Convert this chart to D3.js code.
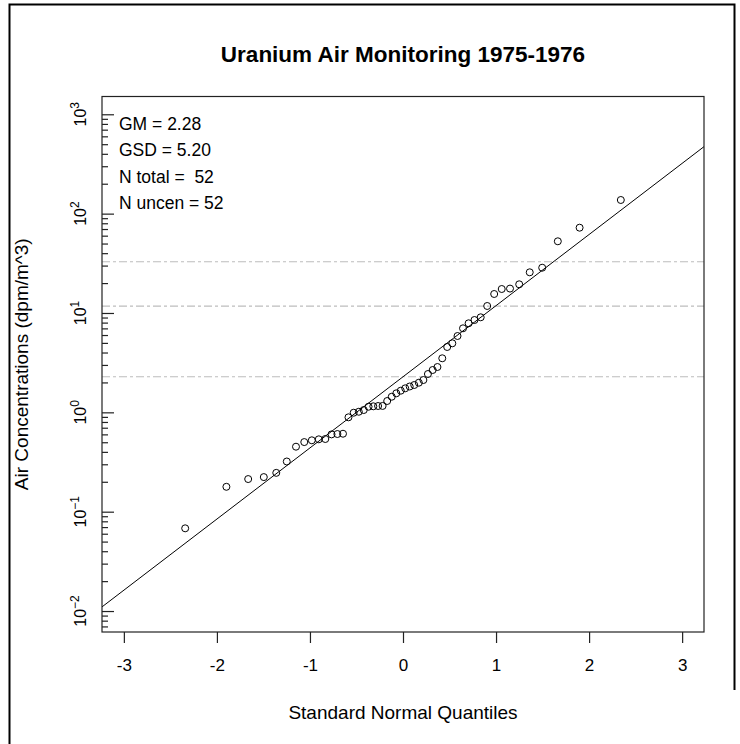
<!DOCTYPE html>
<html>
<head>
<meta charset="utf-8">
<script src="https://cdn.jsdelivr.net/npm/d3@7"></script>
<style>
  html, body { margin: 0; padding: 0; background: #fff; }
  svg { display: block; }
  text { font-family: "Liberation Sans", Arial, sans-serif; fill: #000; }
</style>
</head>
<body>
<svg id="chart" width="740" height="744"></svg>
<script>
// ---- data ----
const title = "Uranium Air Monitoring 1975-1976";
const xLabel = "Standard Normal Quantiles";
const yLabel = "Air Concentrations (dpm/m^3)";
const quantiles = [-2.341,-1.898,-1.664,-1.496,-1.362,-1.249,-1.150,-1.061,-0.980,-0.905,-0.835,-0.768,-0.705,-0.645,-0.586,-0.530,-0.475,-0.422,-0.370,-0.319,-0.268,-0.219,-0.170,-0.121,-0.072,-0.024,
  0.024,0.072,0.121,0.170,0.219,0.268,0.319,0.370,0.422,0.475,0.530,0.586,0.645,0.705,0.768,0.835,0.905,0.980,1.061,1.150,1.249,1.362,1.496,1.664,1.898,2.341];
const concentrations = [0.068,0.178,0.213,0.223,0.246,0.320,0.451,0.502,0.523,0.535,0.539,0.600,0.605,0.609,0.891,0.991,1.014,1.055,1.139,1.150,1.158,1.160,1.300,1.436,1.554,1.651,
  1.745,1.820,1.884,1.987,2.115,2.431,2.667,2.859,3.499,4.546,4.952,5.866,7.012,7.873,8.498,9.046,11.76,15.53,17.43,17.60,19.44,25.67,28.56,52.68,72.2,137.2];
const gm = 2.28;
const gsd = 5.20;
const refLines = [2.28, 11.7, 32.8];
const legendLines = ["GM = 2.28", "GSD = 5.20", "N total =  52", "N uncen = 52"];
const xTicks = [-3,-2,-1,0,1,2,3];
const yExponents = [-2,-1,0,1,2,3];

// ---- layout ----
const L = 102, R = 704, T = 96.5, B = 632;
const svg = d3.select("#chart");

// outer frame
svg.append("path").attr("d", `M9.5,744 V4.5 H734.5 V690`)
  .attr("fill","none").attr("stroke","#000").attr("stroke-width",2);

const x = d3.scaleLinear().domain([-3.235, 3.235]).range([L, R]);
const y = d3.scaleLog().domain([Math.pow(10,-2.211), Math.pow(10,3.179)]).range([B, T]);

const clipId = "plotclip";
svg.append("clipPath").attr("id", clipId).append("rect")
  .attr("x", L).attr("y", T).attr("width", R-L).attr("height", B-T);

// reference dashed lines
svg.append("g").selectAll("line").data(refLines).join("line")
  .attr("x1", L).attr("x2", R)
  .attr("y1", d => y(d)).attr("y2", d => y(d))
  .attr("stroke", "#bdbdbd").attr("stroke-width", 1.2)
  .attr("stroke-dasharray", "8,3,3,3");

// fitted line
const lineData = x.domain().map(z => [z, gm * Math.pow(gsd, z)]);
svg.append("path")
  .attr("clip-path", `url(#${clipId})`)
  .attr("d", d3.line().x(d => x(d[0])).y(d => y(d[1]))(lineData))
  .attr("fill","none").attr("stroke","#000").attr("stroke-width",1);

// points
svg.append("g").selectAll("circle").data(quantiles.map((q,i)=>[q, concentrations[i]])).join("circle")
  .attr("cx", d => x(d[0])).attr("cy", d => y(d[1])).attr("r", 3.5)
  .attr("fill","none").attr("stroke","#000").attr("stroke-width",1);

// box
svg.append("rect").attr("x", L).attr("y", T).attr("width", R-L).attr("height", B-T)
  .attr("fill","none").attr("stroke","#222").attr("stroke-width",1.2);

// x axis
const xAxis = svg.append("g").attr("transform", `translate(0,${B})`)
  .call(d3.axisBottom(x).tickValues(xTicks).tickSize(11).tickPadding(16).tickFormat(d => d < 0 ? "-" + Math.abs(d) : String(d)));
xAxis.select(".domain").remove();
xAxis.selectAll(".tick line").attr("stroke","#222").attr("stroke-width",1.2);
xAxis.selectAll(".tick text").attr("font-size", 17).attr("font-family", "Liberation Sans, Arial, sans-serif").attr("fill","#000");

// y axis ticks (inward)
const majors = yExponents.map(e => Math.pow(10, e));
const minors = [];
for (let e = -3; e <= 3; e++) for (let m = 2; m <= 9; m++) {
  const v = m * Math.pow(10, e);
  if (v >= y.domain()[0] && v <= y.domain()[1]) minors.push(v);
}
const yAxisMajor = svg.append("g").attr("transform", `translate(${L},0)`)
  .call(d3.axisLeft(y).tickValues(majors).tickSizeInner(-12).tickSizeOuter(0).tickFormat(""));
yAxisMajor.select(".domain").remove();
yAxisMajor.selectAll(".tick line").attr("stroke","#222").attr("stroke-width",1.2);
const yAxisMinor = svg.append("g").attr("transform", `translate(${L},0)`)
  .call(d3.axisLeft(y).tickValues(minors).tickSizeInner(-6).tickSizeOuter(0).tickFormat(""));
yAxisMinor.select(".domain").remove();
yAxisMinor.selectAll(".tick line").attr("stroke","#222").attr("stroke-width",1.2);

// y tick labels: rotated 10^k
const yl = svg.append("g");
yExponents.forEach(e => {
  const t = yl.append("text")
    .attr("transform", `translate(86,${y(Math.pow(10,e))}) rotate(-90)`)
    .attr("text-anchor","middle");
  t.append("tspan").attr("font-size", 16).text("10");
  t.append("tspan").attr("font-size", 12).attr("dy", -7).text(e < 0 ? "\u2212" + Math.abs(e) : String(e));
});

// legend text
svg.append("g").selectAll("text").data(legendLines).join("text")
  .attr("x", 119).attr("y", (d,i) => 129.5 + i*26.5)
  .attr("font-size", 17.5).style("white-space","pre")
  .text(d => d);

// title
svg.append("text").attr("x", (L+R)/2).attr("y", 62).attr("text-anchor","middle")
  .attr("font-size", 22.5).attr("font-weight","bold").text(title);

// axis titles
svg.append("text").attr("x", (L+R)/2).attr("y", 719).attr("text-anchor","middle")
  .attr("font-size", 19).text(xLabel);
svg.append("text").attr("transform", `translate(28,${(T+B)/2}) rotate(-90)`).attr("text-anchor","middle")
  .attr("font-size", 19).text(yLabel);
</script>
</body>
</html>
